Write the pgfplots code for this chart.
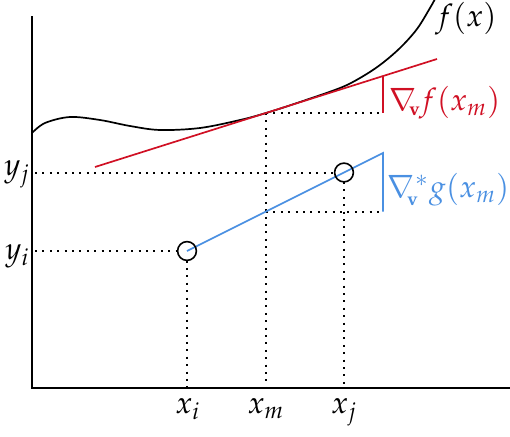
\documentclass[border=0pt]{standalone}
\usepackage{mathpazo}
\usepackage{pgfplots}
\pgfplotsset{compat=1.18}
\definecolor{myred}{RGB}{208,16,36}
\definecolor{myblue}{RGB}{74,144,226}
\tikzset{lbl/.style={font=\fontsize{15.5}{18}\selectfont, inner sep=0pt}}
\begin{document}
\begin{tikzpicture}
\begin{axis}[
  scale only axis, width=255pt, height=218pt,
  xmin=0, xmax=510, ymin=0, ymax=436,
  hide axis, clip=false,
]
% axes
\addplot[black, line width=1pt] coordinates {(32,420) (32,48) (510,48)};
% curve f(x)
\addplot[black, line width=0.85pt, smooth, tension=0.55] coordinates {
(32,303) (45,313) (70,319) (100,316) (130,310) (160,306) (200,308) (240,316) (266,323) (300,334) (340,348) (360,358) (380,371) (400,388) (417,407) (430,428) (435,437)};
% dotted guides
\addplot[black, line width=1pt, dash pattern=on 1pt off 2.7pt] coordinates {(35,263.5) (334,263.5)};
\addplot[black, line width=1pt, dash pattern=on 1pt off 2.7pt] coordinates {(35,185) (177,185)};
\addplot[black, line width=1pt, dash pattern=on 1pt off 2.7pt] coordinates {(187,175.5) (187,49)};
\addplot[black, line width=1pt, dash pattern=on 1pt off 2.7pt] coordinates {(266,323) (266,49)};
\addplot[black, line width=1pt, dash pattern=on 1pt off 2.7pt] coordinates {(344,254) (344,49)};
\addplot[black, line width=1pt, dash pattern=on 1pt off 2.7pt] coordinates {(266,323) (383,323)};
\addplot[black, line width=1pt, dash pattern=on 1pt off 2.7pt] coordinates {(266,224.5) (383,224.5)};
% red tangent
\addplot[myred, line width=0.85pt] coordinates {(95,269) (437,377)};
\addplot[myred, line width=0.85pt] coordinates {(383,360) (383,323)};
% blue secant
\addplot[myblue, line width=0.85pt] coordinates {(187,185) (383,283) (383,224.5)};
% circles
\addplot[black, only marks, mark=o, mark size=4.7pt, mark options={line width=0.8pt}] coordinates {(187,185) (344,263.5)};
% labels
\node[lbl] at (axis cs:466,417) {$f(x)$};
\node[lbl, anchor=west, myred] at (axis cs:389,333) {$\nabla_{\!\!\scriptscriptstyle\mathbf{v}}\mkern-1mu f(x_m)$};
\node[lbl, anchor=west, myblue] at (axis cs:387,246) {$\nabla^{*}_{\!\!\scriptscriptstyle\mathbf{v}} g(x_m)$};
\node[lbl, anchor=east] at (axis cs:30,262) {$y_j$};
\node[lbl, anchor=east] at (axis cs:30,180) {$y_i$};
\node[lbl, anchor=north] at (axis cs:188,38) {$x_i$};
\node[lbl, anchor=north] at (axis cs:266,38) {$x_m$};
\node[lbl, anchor=north] at (axis cs:344,38) {$x_j$};
\end{axis}
\pgfresetboundingbox
\path (current axis.south west) rectangle (current axis.north east);
\end{tikzpicture}
\end{document}
